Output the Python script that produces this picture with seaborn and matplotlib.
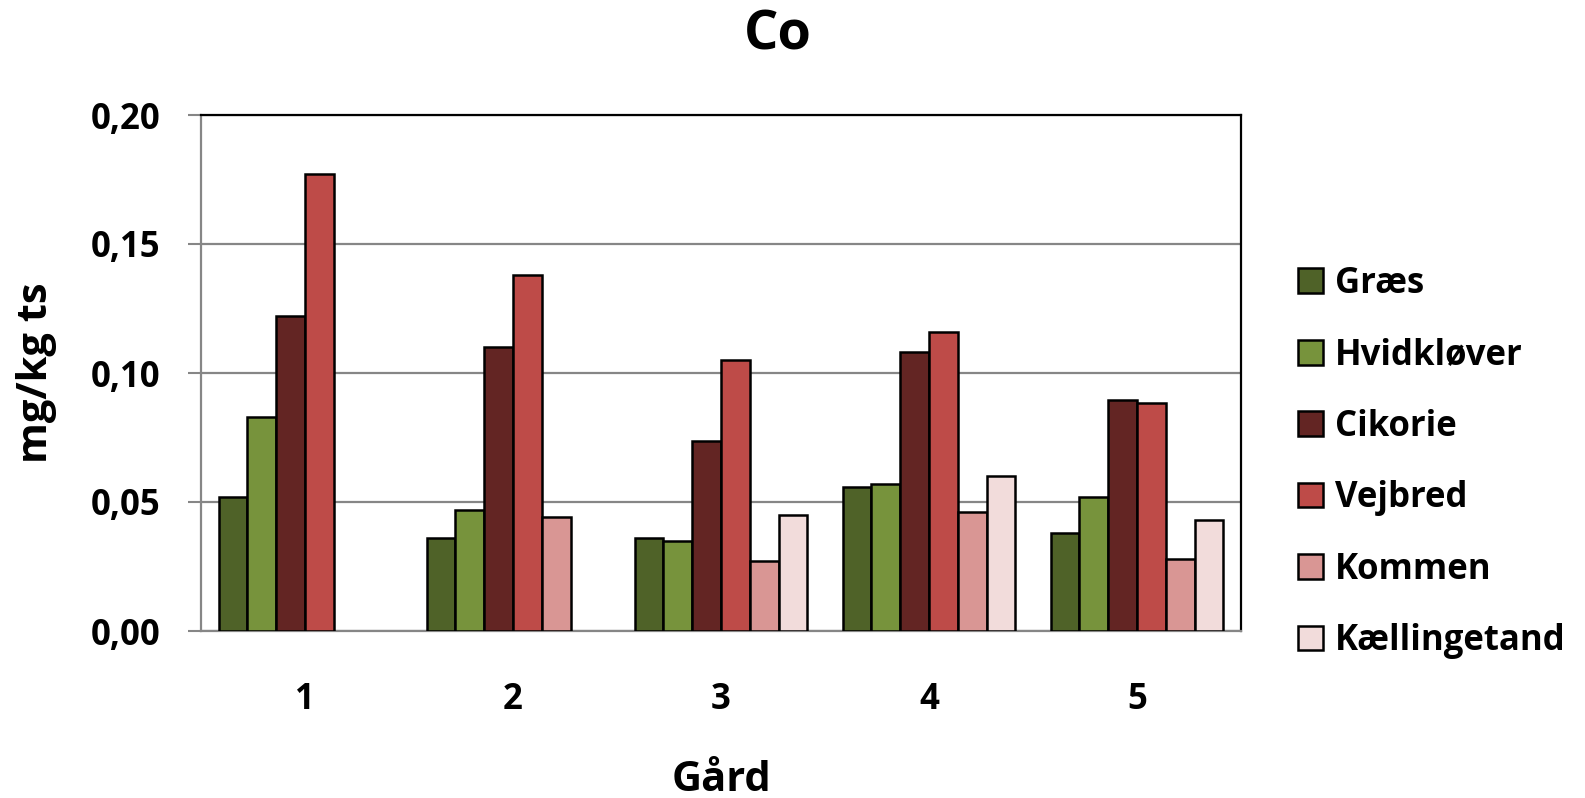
import numpy as np
import pandas as pd
import matplotlib
matplotlib.use("Agg")
import matplotlib.pyplot as plt
from matplotlib.patches import Patch
import seaborn as sns

# ---- data ----
farms = ["1", "2", "3", "4", "5"]
species = ["Græs", "Hvidkløver", "Cikorie", "Vejbred", "Kommen", "Kællingetand"]
graes = [0.052, 0.036, 0.036, 0.056, 0.038]
hvidklover = [0.083, 0.047, 0.035, 0.057, 0.052]
cikorie = [0.122, 0.110, 0.0735, 0.108, 0.0895]
vejbred = [0.177, 0.138, 0.105, 0.116, 0.0885]
kommen = [np.nan, 0.044, 0.027, 0.046, 0.028]
kaellingetand = [np.nan, np.nan, 0.045, 0.060, 0.043]
yticks = [0.00, 0.05, 0.10, 0.15, 0.20]
colors = ["#4F6228", "#77933C", "#632523", "#BE4B48", "#D99694", "#F2DCDB"]

series = [graes, hvidklover, cikorie, vejbred, kommen, kaellingetand]
df = pd.DataFrame(
    [(f, s, v) for s, vals in zip(species, series) for f, v in zip(farms, vals)],
    columns=["Gård", "Art", "Værdi"],
)

sns.set_theme(style="white")
plt.rcParams["font.family"] = ["Open Sans", "DejaVu Sans"]
plt.rcParams["font.weight"] = "bold"
plt.rcParams["text.color"] = "black"
plt.rcParams["axes.labelcolor"] = "black"
plt.rcParams["xtick.labelcolor"] = "black"
plt.rcParams["ytick.labelcolor"] = "black"

W, H = 1585, 798
fig = plt.figure(figsize=(W / 100, H / 100), dpi=100)
ax = fig.add_axes([201 / W, 1 - 631 / H, (1241 - 201) / W, (631 - 115) / H])

sns.barplot(
    data=df, x="Gård", y="Værdi", hue="Art", order=farms, hue_order=species,
    palette=colors, width=0.83, errorbar=None, edgecolor="black",
    linewidth=1.8, saturation=1, ax=ax, legend=False, zorder=3,
)

ax.set_ylim(0, 0.20)
ax.set_yticks(yticks)
ax.set_yticklabels([f"{t:.2f}".replace(".", ",") for t in yticks])
ax.yaxis.grid(True, color="#868686", linewidth=1.6, zorder=0)
ax.set_axisbelow(True)

for side in ["left", "bottom"]:
    ax.spines[side].set_color("#868686")
    ax.spines[side].set_linewidth(1.6)
for side in ["top", "right"]:
    ax.spines[side].set_color("black")
    ax.spines[side].set_linewidth(1.6)
    ax.spines[side].set_visible(True)

ax.tick_params(axis="y", which="major", length=9.5, width=1.5, color="#868686",
               direction="out", left=True, pad=20, labelsize=25, labelcolor="black")
ax.tick_params(axis="x", length=0, pad=37, labelsize=25, labelcolor="black")
for lab in ax.get_xticklabels() + ax.get_yticklabels():
    lab.set_fontweight("bold")

ax.set_xlabel("Gård", fontsize=30, fontweight="bold", color="black")
ax.set_ylabel("mg/kg ts", fontsize=30, fontweight="bold", color="black")
ax.xaxis.set_label_coords(0.5, -0.25)
ax.yaxis.set_label_coords(-0.138, 0.5)

fig.text(777.5 / W, 1 - 50 / H, "Co", ha="center", va="baseline",
         fontsize=39, fontweight="bold", color="black")

handles = [Patch(facecolor=c, edgecolor="black", linewidth=1.8) for c in colors]
leg = ax.legend(handles, species, loc="upper left", bbox_to_anchor=(1298 / W, 1 - 266 / H),
                bbox_transform=fig.transFigure, frameon=False,
                handlelength=0.72, handleheight=0.72, handletextpad=0.35,
                labelspacing=1.02, borderpad=0, borderaxespad=0,
                prop={"weight": "bold", "size": 25})
for t in leg.get_texts():
    t.set_color("black")

fig.savefig("out.png", dpi=100)
